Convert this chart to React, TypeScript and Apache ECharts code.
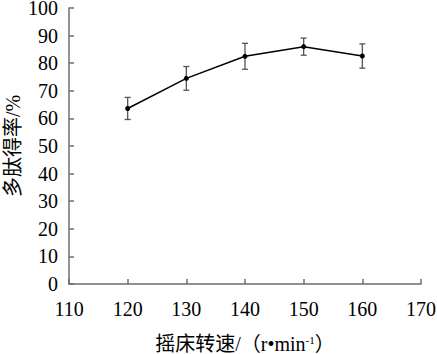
import React, { useEffect, useRef } from "react";
import * as echarts from "echarts";

const speeds = [120, 130, 140, 150, 160];
const yieldRate = [63.6, 74.5, 82.5, 86.0, 82.6];
const errors = [4.0, 4.3, 4.7, 3.1, 4.4];
const xTicks = { min: 110, max: 170, interval: 10 };
const yTicks = { min: 0, max: 100, interval: 10 };

const FONT = "'Liberation Serif', 'Times New Roman', 'Noto Sans CJK SC', serif";

export default function App() {
  const ref = useRef<HTMLDivElement>(null);
  useEffect(() => {
    if (!ref.current) return;
    const chart = echarts.init(ref.current, null, { renderer: "svg" });
    const axisColor = "#6e6e6e";
    const errData = speeds.map((s, i) => [s, yieldRate[i] - errors[i], yieldRate[i] + errors[i]]);
    chart.setOption({
      animation: false,
      backgroundColor: "#ffffff",
      grid: { left: 69, right: 16, top: 8, bottom: 70, containLabel: false, outerBoundsMode: "none" },
      xAxis: {
        type: "value",
        min: xTicks.min,
        max: xTicks.max,
        interval: xTicks.interval,
        splitLine: { show: false },
        axisLine: { lineStyle: { color: axisColor, width: 1.5 } },
        axisTick: { inside: true, length: 5, lineStyle: { color: axisColor, width: 1.5 } },
        axisLabel: { color: "#000", fontFamily: FONT, fontSize: 20, margin: 15 },
        name: "摇床转速/（r•min{sup|-1}）",
        nameLocation: "middle",
        nameGap: 50,
        nameMoveOverlap: false,
        nameTextStyle: {
          color: "#000",
          fontFamily: FONT,
          fontSize: 20,
          rich: {
            sup: { fontSize: 11, verticalAlign: "top", padding: [0, 0, 8, 0], fontFamily: FONT, color: "#000" },
          },
        },
      },
      yAxis: {
        type: "value",
        min: yTicks.min,
        max: yTicks.max,
        interval: yTicks.interval,
        splitLine: { show: false },
        axisLine: { show: true, lineStyle: { color: axisColor, width: 1.5 } },
        axisTick: { show: true, inside: true, length: 5, lineStyle: { color: axisColor, width: 1.5 } },
        axisLabel: { color: "#000", fontFamily: FONT, fontSize: 20, lineHeight: 15, margin: 11 },
        name: "多肽得率/%",
        nameLocation: "middle",
        nameGap: 46,
        nameMoveOverlap: false,
        nameTextStyle: { color: "#000", fontFamily: FONT, fontSize: 20, lineHeight: 20 },
      },
      series: [
        {
          type: "custom",
          data: errData,
          z: 1,
          renderItem: (params: any, api: any) => {
            const x = api.value(0);
            const lo = api.coord([x, api.value(1)]);
            const hi = api.coord([x, api.value(2)]);
            const cap = 3;
            const style = { stroke: "#555", lineWidth: 1.3 };
            return {
              type: "group",
              children: [
                { type: "line", shape: { x1: lo[0], y1: lo[1], x2: hi[0], y2: hi[1] }, style },
                { type: "line", shape: { x1: lo[0] - cap, y1: lo[1], x2: lo[0] + cap, y2: lo[1] }, style },
                { type: "line", shape: { x1: hi[0] - cap, y1: hi[1], x2: hi[0] + cap, y2: hi[1] }, style },
              ],
            };
          },
        },
        {
          type: "line",
          data: speeds.map((s, i) => [s, yieldRate[i]]),
          z: 2,
          symbol: "circle",
          symbolSize: 5,
          lineStyle: { color: "#000", width: 1.5 },
          itemStyle: { color: "#000" },
        },
      ],
    });
    return () => chart.dispose();
  }, []);
  return <div ref={ref} style={{ position: "fixed", left: 0, top: 0, width: 437, height: 354 }} />;
}
